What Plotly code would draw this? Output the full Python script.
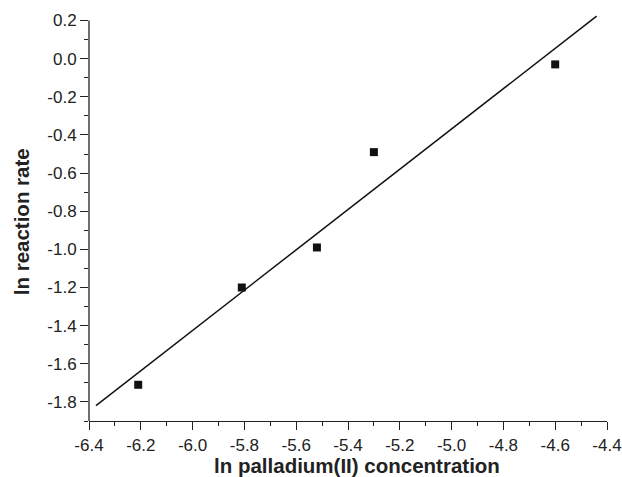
import plotly.graph_objects as go

# data
x_conc = [-6.21, -5.81, -5.52, -5.30, -4.60]
y_rate = [-1.71, -1.20, -0.99, -0.49, -0.03]

# fitted line end points
fit_x = [-6.373, -4.44]
fit_y = [-1.819, 0.223]

x_tickvals = [-6.4, -6.2, -6.0, -5.8, -5.6, -5.4, -5.2, -5.0, -4.8, -4.6, -4.4]
x_ticktext = ["-6.4", "-6.2", "-6.0", "-5.8", "-5.6", "-5.4", "-5.2", "-5.0", "-4.8", "-4.6", "-4.4"]
y_tickvals = [0.2, 0.0, -0.2, -0.4, -0.6, -0.8, -1.0, -1.2, -1.4, -1.6, -1.8]
y_ticktext = ["0.2", "0.0", "-0.2", "-0.4", "-0.6", "-0.8", "-1.0", "-1.2", "-1.4", "-1.6", "-1.8"]

x_title = "ln palladium(II) concentration"
y_title = "ln reaction rate"

fig = go.Figure()
fig.add_trace(go.Scatter(x=fit_x, y=fit_y, mode="lines",
                         line=dict(color="#111111", width=1.5), showlegend=False))
fig.add_trace(go.Scatter(x=x_conc, y=y_rate, mode="markers",
                         marker=dict(symbol="square", size=8, color="#111111"),
                         showlegend=False))

tickfont = dict(family="Liberation Sans, Arial, sans-serif", size=17, color="#222222")

fig.update_layout(
    width=622, height=477,
    margin=dict(l=89, r=15, t=10.5, b=56),
    paper_bgcolor="white", plot_bgcolor="white",
    xaxis=dict(range=[-6.4, -4.4], showgrid=False, zeroline=False, automargin=False,
               showline=True, linecolor="#222222", linewidth=1.3,
               ticks="outside", ticklen=8, tickwidth=1.3, tickcolor="#222222",
               tickvals=x_tickvals, ticktext=x_ticktext, tickfont=tickfont,
               minor=dict(ticks="outside", ticklen=4, tickwidth=1.3,
                          tickcolor="#222222", dtick=0.1, tick0=0, showgrid=False)),
    yaxis=dict(range=[-1.9, 0.25], showgrid=False, zeroline=False, automargin=False,
               showline=False,
               ticks="outside", ticklen=8, tickwidth=1.3, tickcolor="#222222",
               tickvals=y_tickvals, ticktext=y_ticktext, tickfont=tickfont,
               minor=dict(ticks="outside", ticklen=4, tickwidth=1.3,
                          tickcolor="#222222", dtick=0.1, tick0=0, showgrid=False)),
    shapes=[dict(type="line", xref="paper", yref="y", x0=0, x1=0,
                 y0=-1.9, y1=0.2, line=dict(color="#222222", width=1.3),
                 layer="above")],
    annotations=[
        dict(text="<b>" + x_title + "</b>", xref="paper", yref="paper",
             x=(357 - 89) / (622 - 89 - 15), y=-(466 - 421) / (477 - 10.5 - 56),
             xanchor="center", yanchor="middle", showarrow=False,
             font=dict(family="Liberation Sans, Arial, sans-serif", size=20.5, color="#222222")),
        dict(text="<b>" + y_title + "</b>", xref="paper", yref="paper",
             x=-(89 - 21) / (622 - 89 - 15), y=(421 - 222) / (477 - 10.5 - 56),
             xanchor="center", yanchor="middle", showarrow=False, textangle=-90,
             font=dict(family="Liberation Sans, Arial, sans-serif", size=20.5, color="#222222")),
    ],
)

fig.write_html("out.html")
